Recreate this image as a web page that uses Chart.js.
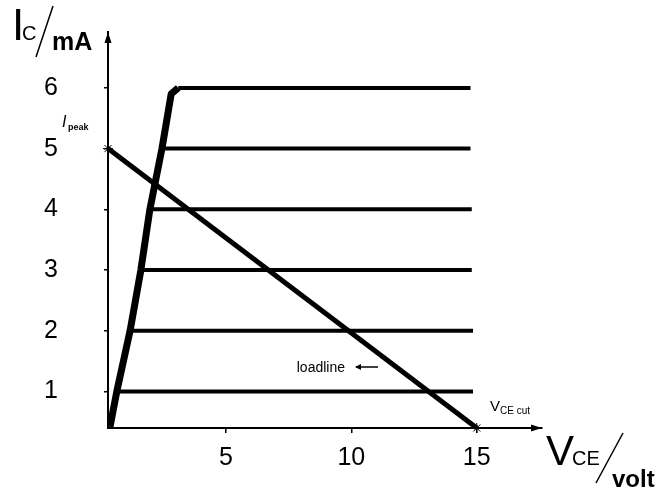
<!DOCTYPE html>
<html>
<head>
<meta charset="utf-8">
<script src="https://cdn.jsdelivr.net/npm/chart.js@4.4.1/dist/chart.umd.min.js"></script>
<style>
  html, body { margin: 0; padding: 0; background: #fff; }
  #wrap { width: 661px; height: 488px; position: relative; }
</style>
</head>
<body>
<div id="wrap"><canvas id="chart"></canvas></div>
<script>
// collector current levels (mA) and where each flat part starts / ends (V)
const levels = [1, 2, 3, 4, 5, 6];
const kneeV = [0.62, 1.2, 1.62, 1.98, 2.45, 3.1];
const flatEndV = [14.85, 14.85, 14.8, 14.8, 14.75, 14.75];

// steep saturation edge
const satV = [0.38, 0.65, 1.18, 1.61, 1.97, 2.45, 2.82, 3.1];
const satI = [0.42, 1.0, 2.0, 3.0, 4.0, 5.0, 5.9, 6.0];

// load line from Ipeak to VCEcut
const loadV = [0.3, 15];
const loadI = [5.0, 0.4];

const xTicks = [5, 10, 15];
const yTicks = [1, 2, 3, 4, 5, 6];

const FONT = '"Liberation Sans", Arial, sans-serif';

const datasets = [];

datasets.push({
  data: loadV.map((v, i) => ({ x: v, y: loadI[i] })),
  borderColor: "#000",
  borderWidth: 5,
  pointRadius: 5,
  pointStyle: "star",
  pointBorderWidth: 1,
  pointBorderColor: "#000",
  clip: false
});

datasets.push({
  data: satV.map((v, i) => ({ x: v, y: satI[i] })),
  borderColor: "#000",
  borderWidth: 7,
  pointRadius: 0,
  borderJoinStyle: "round"
});

levels.forEach((lv, i) => {
  datasets.push({
    data: [{ x: kneeV[i], y: lv }, { x: flatEndV[i], y: lv }],
    borderColor: "#000",
    borderWidth: 4,
    pointRadius: 0
  });
});

// axis arrows and text labels
const extras = {
  id: "extras",
  afterDraw(chart) {
    const ctx = chart.ctx;
    const a = chart.chartArea;
    ctx.save();
    ctx.fillStyle = "#000";
    ctx.strokeStyle = "#000";

    // arrow heads
    ctx.beginPath();
    ctx.moveTo(a.left, a.top);
    ctx.lineTo(a.left - 3.5, a.top + 11);
    ctx.lineTo(a.left + 3.5, a.top + 11);
    ctx.closePath();
    ctx.fill();
    ctx.beginPath();
    ctx.moveTo(a.right, a.bottom);
    ctx.lineTo(a.right - 11, a.bottom - 3.5);
    ctx.lineTo(a.right - 11, a.bottom + 3.5);
    ctx.closePath();
    ctx.fill();

    ctx.textBaseline = "alphabetic";
    ctx.textAlign = "left";

    // Ic / mA
    ctx.font = "44px " + FONT;
    ctx.fillText("I", 12, 40);
    ctx.font = "20px " + FONT;
    ctx.fillText("C", 22, 40);
    ctx.lineWidth = 1.5;
    ctx.beginPath();
    ctx.moveTo(36, 57);
    ctx.lineTo(53, 6);
    ctx.stroke();
    ctx.font = "bold 25px " + FONT;
    ctx.fillText("mA", 52, 50);

    // Ipeak
    ctx.font = "italic 16px " + FONT;
    ctx.fillText("I", 62, 127);
    ctx.font = "bold 9px " + FONT;
    ctx.fillText("peak", 68, 130);

    // loadline label with its arrow
    ctx.font = "14px " + FONT;
    ctx.textAlign = "right";
    ctx.fillText("loadline", 345, 372);
    ctx.textAlign = "left";
    ctx.lineWidth = 1.5;
    ctx.beginPath();
    ctx.moveTo(356, 367);
    ctx.lineTo(378, 367);
    ctx.stroke();
    ctx.beginPath();
    ctx.moveTo(355, 367);
    ctx.lineTo(361, 364);
    ctx.lineTo(361, 370);
    ctx.closePath();
    ctx.fill();

    // VCEcut
    ctx.font = "15px " + FONT;
    ctx.fillText("V", 490, 411);
    ctx.font = "10px " + FONT;
    ctx.fillText("CE cut", 500, 414);

    // VCE / volt
    ctx.font = "42px " + FONT;
    ctx.fillText("V", 546, 465);
    ctx.font = "20px " + FONT;
    ctx.fillText("CE", 572, 465);
    ctx.lineWidth = 1.5;
    ctx.beginPath();
    ctx.moveTo(623, 433);
    ctx.lineTo(596, 483);
    ctx.stroke();
    ctx.font = "bold 24px " + FONT;
    ctx.fillText("volt", 612, 487);

    ctx.restore();
  }
};

new Chart(document.getElementById("chart").getContext("2d"), {
  type: "scatter",
  data: { datasets },
  options: {
    responsive: true,
    maintainAspectRatio: false,
    animation: false,
    showLine: true,
    layout: { padding: { top: 32, right: 119, left: 0, bottom: 0 } },
    plugins: { legend: { display: false }, tooltip: { enabled: false } },
    scales: {
      x: {
        type: "linear",
        min: 0.3,
        max: 17.6,
        afterBuildTicks: s => { s.ticks = xTicks.map(v => ({ value: v })); },
        afterFit: s => { s.height = 60; s.paddingLeft = 0; s.paddingRight = 0; },
        grid: { drawOnChartArea: false, tickLength: 5, color: "#000", lineWidth: 1.5 },
        border: { color: "#000", width: 2 },
        ticks: { color: "#000", padding: 10, font: { family: FONT, size: 25 } }
      },
      y: {
        type: "linear",
        min: 0.4,
        max: 6.92,
        afterBuildTicks: s => { s.ticks = yTicks.map(v => ({ value: v })); },
        afterFit: s => { s.width = 108; s.paddingTop = 0; s.paddingBottom = 0; },
        grid: { drawOnChartArea: false, tickLength: 4, color: "#000", lineWidth: 1.5 },
        border: { color: "#000", width: 2 },
        ticks: { color: "#000", padding: 46, font: { family: FONT, size: 25 } }
      }
    }
  },
  plugins: [extras]
});
</script>
</body>
</html>
